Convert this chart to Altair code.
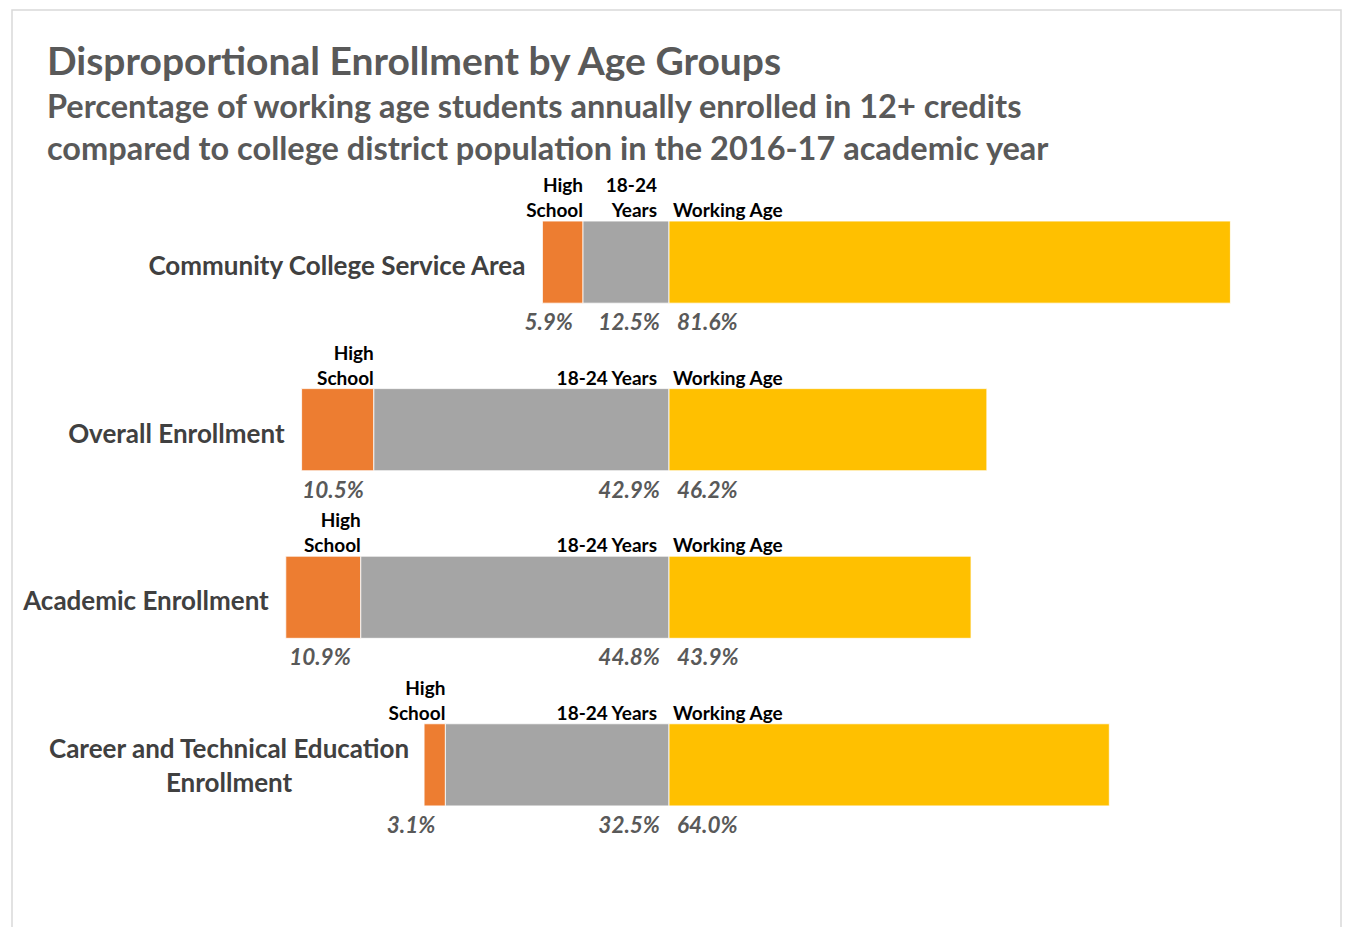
import altair as alt
import pandas as pd

# ---- data ----
categories = [
    "Community College Service Area",
    "Overall Enrollment",
    "Academic Enrollment",
    "Career and Technical Education\nEnrollment",
]
high_school = [5.9, 10.5, 10.9, 3.1]
age_18_24 = [12.5, 42.9, 44.8, 32.5]
working_age = [81.6, 46.2, 43.9, 64.0]
segments = ["High School", "18-24 Years", "Working Age"]
hs_labels = ["High\nSchool", "High\nSchool", "High\nSchool", "High\nSchool"]
yrs_labels = ["18-24\nYears", "18-24 Years", "18-24 Years", "18-24 Years"]
wa_labels = ["Working Age", "Working Age", "Working Age", "Working Age"]
colors = ["#ED7D31", "#A5A5A5", "#FFC000"]

title_lines = [
    "Disproportional Enrollment by Age Groups",
    "Percentage of working age students annually enrolled in 12+ credits",
    "compared to college district population in the 2016-17 academic year",
]

# ---- build tables ----
rows = []
cat_rows = []
for i, c in enumerate(categories):
    h, a, w = high_school[i], age_18_24[i], working_age[i]
    rows.append(dict(category=c, segment="High School", x0=-(a + h), x1=-a,
                     value=h, top=hs_labels[i], anchor=-a))
    rows.append(dict(category=c, segment="18-24 Years", x0=-a, x1=0,
                     value=a, top=yrs_labels[i], anchor=0))
    rows.append(dict(category=c, segment="Working Age", x0=0, x1=w,
                     value=w, top=wa_labels[i], anchor=0))
    cat_rows.append(dict(category=c, left=-(a + h), lines=c.count("\n") + 1))
df = pd.DataFrame(rows)
df["vlabel"] = df["value"].map(lambda v: f"{v:.1f}%")
df["tlines"] = df["top"].map(lambda s: s.count("\n") + 1)
cdf = pd.DataFrame(cat_rows)

W, H = 1329, 920
zero_px = 657.0
ppu = 6.88
xdom = [-zero_px / ppu, (W - zero_px) / ppu]

FONT = "Lato"

xscale = alt.Scale(domain=xdom, nice=False, zero=False)
yscale = alt.Scale(domain=categories, paddingInner=0.51, paddingOuter=1.0, align=0.6297)


def ych(bp=0.5):
    return alt.Y("category:N", sort=categories, scale=yscale, axis=None, bandPosition=bp)


bars = alt.Chart(df).mark_bar(stroke="white", strokeWidth=0.8).encode(
    x=alt.X("x0:Q", scale=xscale, axis=None),
    x2="x1:Q",
    y=alt.Y("category:N", sort=categories, scale=yscale, axis=None),
    color=alt.Color("segment:N", scale=alt.Scale(domain=segments, range=colors), legend=None),
)

top_base = alt.Chart(df).encode(
    x=alt.X("anchor:Q", scale=xscale, axis=None),
    y=ych(0),
    text="top:N",
)
TS = dict(baseline="alphabetic", font=FONT, fontWeight="bold", fontSize=19,
          color="#000000", lineBreak="\n", lineHeight=25)
top_layers = []
for seg, align, dx in [("High School", "right", 0), ("18-24 Years", "right", -12),
                       ("Working Age", "left", 4)]:
    for n in (1, 2):
        top_layers.append(
            top_base.transform_filter(
                (alt.datum.segment == seg) & (alt.datum.tlines == n)
            ).mark_text(align=align, dx=dx, dy=-4 - 25 * (n - 1), **TS)
        )

val_base = alt.Chart(df).encode(
    x=alt.X("anchor:Q", scale=xscale, axis=None),
    y=ych(1),
    text="vlabel:N",
)
vstyle = dict(baseline="alphabetic", dy=27, font=FONT, fontWeight="bold", fontStyle="italic",
              fontSize=22.5, color="#595959")
val_hs = val_base.transform_filter(alt.datum.segment == "High School").mark_text(
    align="right", dx=-10, **vstyle)
val_yr = val_base.transform_filter(alt.datum.segment == "18-24 Years").mark_text(
    align="right", dx=-9, **vstyle)
val_wa = val_base.transform_filter(alt.datum.segment == "Working Age").mark_text(
    align="left", dx=8, **vstyle)

cat_base = alt.Chart(cdf).encode(
    x=alt.X("left:Q", scale=xscale, axis=None),
    y=ych(0.5),
    text="category:N",
)
cat_one = cat_base.transform_filter(alt.datum.lines == 1).mark_text(
    align="right", baseline="middle", dx=-17, dy=5, font=FONT, fontWeight="bold",
    fontSize=26, color="#404040")
cat_two = cat_base.transform_filter(alt.datum.lines > 1).mark_text(
    align="center", baseline="middle", dx=-195, dy=-15, font=FONT, fontWeight="bold",
    fontSize=26, color="#404040", lineBreak="\n", lineHeight=34)

tdf = pd.DataFrame({"t": title_lines, "k": [0, 1, 2]})
title_main = alt.Chart(tdf).transform_filter(alt.datum.k == 0).mark_text(
    align="left", baseline="alphabetic", font=FONT, fontWeight="bold", fontSize=39,
    color="#595959").encode(x=alt.value(35), y=alt.value(65), text="t:N")
sub1 = alt.Chart(tdf).transform_filter(alt.datum.k == 1).mark_text(
    align="left", baseline="alphabetic", font=FONT, fontWeight="bold", fontSize=32.5,
    color="#595959").encode(x=alt.value(35), y=alt.value(108), text="t:N")
sub2 = alt.Chart(tdf).transform_filter(alt.datum.k == 2).mark_text(
    align="left", baseline="alphabetic", font=FONT, fontWeight="bold", fontSize=32.5,
    color="#595959").encode(x=alt.value(35), y=alt.value(150), text="t:N")

chart = alt.layer(
    bars, *top_layers, val_hs, val_yr, val_wa, cat_one, cat_two,
    title_main, sub1, sub2,
).properties(
    width=W, height=H,
    autosize=alt.AutoSizeParams(type="none"),
    padding={"left": 12, "top": 10, "right": 7, "bottom": 0},
    background="white",
).configure_view(stroke="#d9d9d9", strokeWidth=1.5)

chart.save("out.html", embed_options={"renderer": "svg", "actions": False})
